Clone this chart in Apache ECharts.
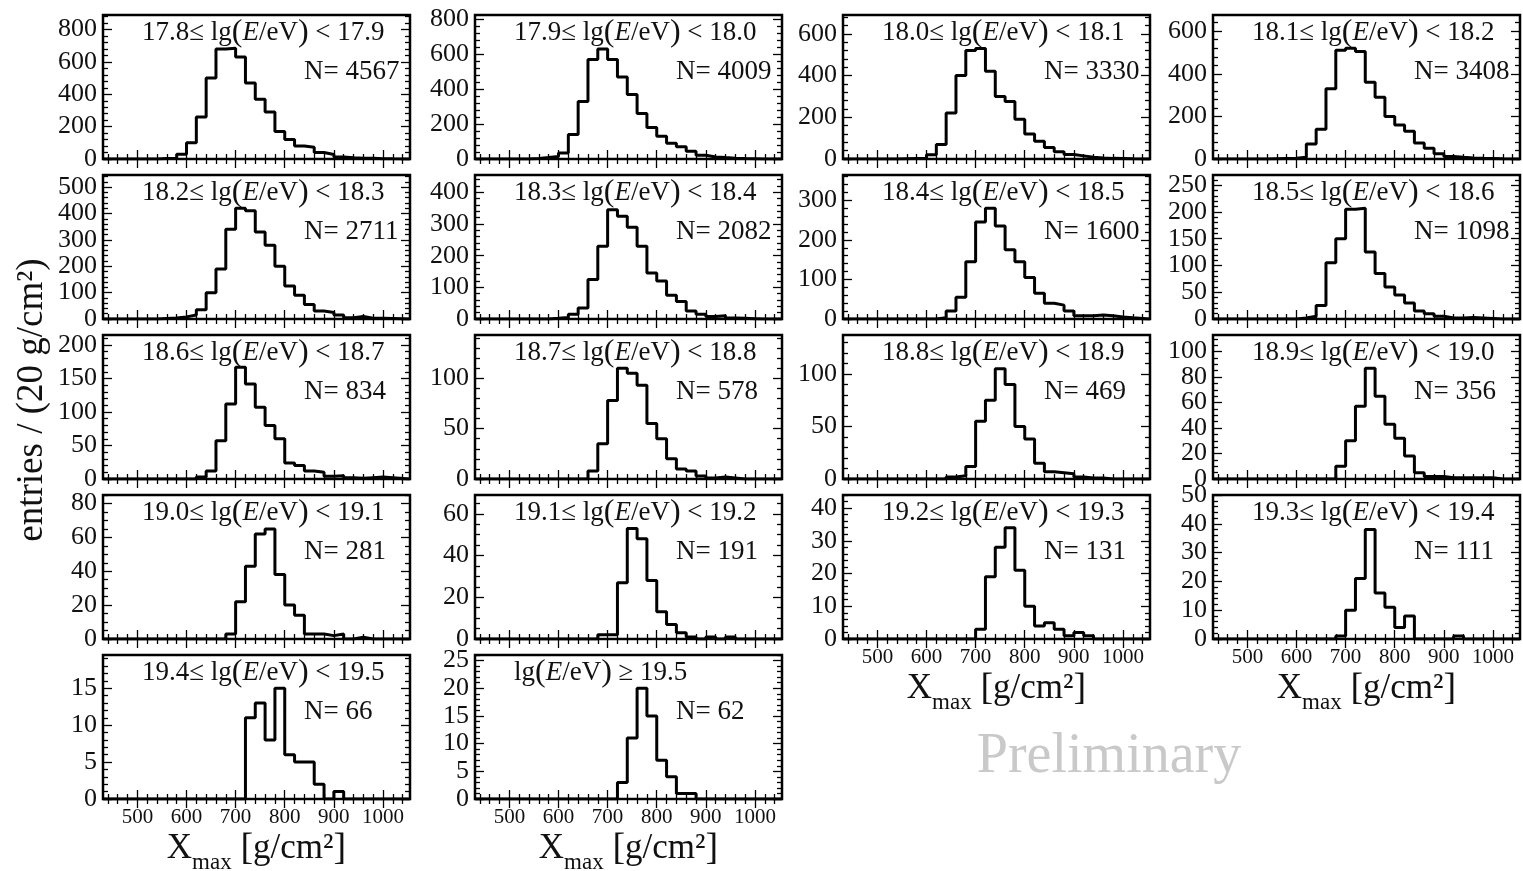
<!DOCTYPE html>
<html>
<head>
<meta charset="utf-8">
<script src="https://cdn.jsdelivr.net/npm/echarts@6/dist/echarts.min.js"></script>
<style>
html,body{margin:0;padding:0;background:#fff;}
#chart{width:1523px;height:871px;}
</style>
</head>
<body>
<div id="chart"></div>
<script>
// ---- data ----
// left edges of the 20 g/cm^2 Xmax bins
const binEdges = [540,560,580,600,620,640,660,680,700,720,740,760,780,800,820,840,860,880,900,920,940,960,980,1000];
const binWidth = 20;

const h178 = [3,5,30,100,260,500,680,685,630,470,370,290,170,120,80,72,40,28,12,8,5,4,2,1];
const h179 = [3,8,15,35,140,330,570,630,570,470,370,260,180,130,90,70,45,22,12,8,5,3,2,0];
const h180 = [1,2,3,20,70,220,400,520,530,420,300,275,190,120,85,55,35,22,15,8,5,3,2,1];
const h181 = [1,2,3,8,70,140,330,510,520,505,360,290,200,160,130,75,50,25,12,8,5,3,2,1];
const h182 = [2,4,8,15,35,100,190,340,420,410,330,280,200,125,90,55,30,25,15,5,10,3,3,2];
const h183 = [0,0,2,5,15,35,125,230,345,325,290,230,145,120,75,55,25,15,8,10,3,2,1,0];
const h184 = [0,0,0,0,3,20,55,145,245,280,235,175,145,105,65,40,35,20,8,8,10,8,5,3];
const h185 = [0,0,0,2,5,25,105,150,205,207,125,85,60,45,30,15,10,5,2,2,3,2,1,0];
const h186 = [0,0,0,0,3,12,57,112,167,142,107,80,60,24,20,12,10,4,5,2,1,2,3,2];
const h187 = [0,0,0,0,0,0,8,35,78,110,105,93,55,40,20,10,8,3,1,2,1,0,0,0];
const h188 = [0,0,0,0,0,2,3,12,55,75,105,90,50,38,15,7,6,5,2,1,1,0,0,0];
const h189 = [0,0,0,0,0,0,0,10,30,57,87,65,43,32,18,5,2,2,1,1,1,1,1,0];
const h190 = [0,0,0,0,0,0,0,3,22,43,62,65,38,20,14,3,3,2,3,0,1,0,0,0];
const h191 = [0,0,0,0,0,0,0,2,2,27,53,48,28,13,7,3,1,0,1,0,1,0,0,0];
const h192 = [0,0,0,0,0,0,0,0,3,19,28,34,21,10,4,5,3,1,2,1,0,0,0,0];
const h193 = [0,0,0,0,0,0,0,1,10,21,38,16,11,4,8,0,0,0,0,1,0,0,0,0];
const h194 = [0,0,0,0,0,0,0,0,0,11,13,8,15,6,5,5,2,0,1,0,0,0,0,0];
const h195 = [0,0,0,0,0,0,0,0,0,3,11,20,15,7,4,1,1,0,0,0,0,0,0,0];

const energyLow  = ['17.8','17.9','18.0','18.1','18.2','18.3','18.4','18.5','18.6','18.7','18.8','18.9','19.0','19.1','19.2','19.3','19.4','19.5'];
const energyHigh = ['17.9','18.0','18.1','18.2','18.3','18.4','18.5','18.6','18.7','18.8','18.9','19.0','19.1','19.2','19.3','19.4','19.5',null];
const nEvents = [4567,4009,3330,3408,2711,2082,1600,1098,834,578,469,356,281,191,131,111,66,62];

// axis ranges / tick labels
const yMax  = [890,825,690,676,546,455,364,269,215,143,137,113,85,69,44,50,19.5,26];
const yStep = [200,200,200,200,100,100,100,50,50,50,50,20,20,20,10,10,5,5];
const yMinorStep = [40,40,40,40,20,20,20,10,10,10,10,5,5,5,2,2,1,1];
const xMin = 430, xMax = 1055;
const xMajorTicks = [500,600,700,800,900,1000];
const xMinorTicks = [440,460,480,520,540,560,580,620,640,660,680,720,740,760,780,820,840,860,880,920,940,960,980,1020,1040];

const hists = [h178,h179,h180,h181,h182,h183,h184,h185,h186,h187,h188,h189,h190,h191,h192,h193,h194,h195];

// ---- layout ----
const colLeft = [103, 475, 843, 1213];
const rowTop = [15, 175, 335, 495, 655];
const W = 307, H = 144;
const FONT = '"Liberation Serif","Times New Roman",serif';
const INK = '#111';

const option = {animation:false, backgroundColor:'#fff', grid:[], xAxis:[], yAxis:[], series:[], graphic:[]};

function ticksFrom(step, max){ const a=[]; for(let v=0; v<=max+1e-9; v+=step) a.push(+v.toFixed(6)); return a; }

function xAx(gi, pos, ticks, len, labels){
  return {gridIndex:gi, type:'value', min:xMin, max:xMax, position:pos,
    axisLine:{show:false}, splitLine:{show:false},
    axisTick:{show:true, inside:true, length:len, customValues:ticks, lineStyle:{color:'#000', width:1.3}},
    axisLabel:{show:!!labels, customValues:ticks, showMinLabel:true, showMaxLabel:true, hideOverlap:false,
      formatter:function(v){return String(v);}, fontFamily:FONT, fontSize:21, color:INK, margin:8}};
}
// labels: the tick labels this axis carries (major labels split over two overlapping axes so none are dropped)
function yAx(gi, pos, ticks, len, labels, max){
  return {gridIndex:gi, type:'value', min:0, max:max, position:pos,
    axisLine:{show:false}, splitLine:{show:false},
    axisTick:{show:true, inside:true, length:len, customValues:ticks, lineStyle:{color:'#000', width:1.3}},
    axisLabel:{show:!!labels, customValues:labels || [], showMinLabel:true, showMaxLabel:true, hideOverlap:false,
      formatter:function(v){return String(v);}, fontFamily:FONT, fontSize:26, color:INK, margin:6}};
}

const richBase = {
  n:{fontFamily:FONT, fontSize:27, fill:INK, color:INK},
  i:{fontFamily:FONT, fontSize:27, fontStyle:'italic', fill:INK, color:INK},
  p:{fontFamily:FONT, fontSize:32, fill:INK, color:INK}
};

hists.forEach((h, i) => {
  const row = i < 16 ? Math.floor(i/4) : 4;
  const col = i % 4;
  const left = colLeft[col], top = rowTop[row];
  const showX = (i >= 14);
  option.grid.push({left:left, top:top, width:W, height:H, show:true, borderColor:'#000', borderWidth:2.5, backgroundColor:'transparent'});
  const yMajor = ticksFrom(yStep[i], yMax[i]);
  const yMinor = ticksFrom(yMinorStep[i], yMax[i]).filter(v => yMajor.indexOf(v) < 0);
  const labEven = yMajor.filter((v,k) => k % 2 === 0);
  const labOdd  = yMajor.filter((v,k) => k % 2 === 1);
  option.xAxis.push(xAx(i,'bottom',xMajorTicks,9,showX), xAx(i,'bottom',xMinorTicks,5,false),
                    xAx(i,'top',xMajorTicks,9,false), xAx(i,'top',xMinorTicks,5,false));
  option.yAxis.push(yAx(i,'left',yMajor,9,labEven,yMax[i]), yAx(i,'left',yMinor,5,labOdd,yMax[i]),
                    yAx(i,'right',yMajor,9,null,yMax[i]), yAx(i,'right',yMinor,5,null,yMax[i]));
  const pts = [[xMin,0]];
  binEdges.forEach((e,k) => pts.push([e, h[k]]));
  pts.push([binEdges[binEdges.length-1] + binWidth, 0]);
  pts.push([xMax, 0]);
  option.series.push({type:'line', xAxisIndex:4*i, yAxisIndex:4*i, step:'end', symbol:'none', showSymbol:false,
    data:pts, clip:true, lineStyle:{color:'#000', width:3}, z:3, silent:true});

  const title = energyHigh[i]
    ? '{n|' + energyLow[i] + '≤ lg}{p|(}{i|E}{n|/eV}{p|)}{n| < ' + energyHigh[i] + '}'
    : '{n|lg}{p|(}{i|E}{n|/eV}{p|)}{n| ≥ ' + energyLow[i] + '}';
  option.graphic.push({type:'text', x:left+39, y:top+18, z:10, silent:true,
    style:{text:title, rich:richBase, textAlign:'left', align:'left', textVerticalAlign:'middle', verticalAlign:'middle',
           fontFamily:FONT, fontSize:27, fill:INK}});
  option.graphic.push({type:'text', x:left+201, y:top+57, z:10, silent:true,
    style:{text:'N= ' + nEvents[i], textAlign:'left', align:'left', textVerticalAlign:'middle', verticalAlign:'middle',
           fontFamily:FONT, fontSize:27, fill:INK}});
});

// axis titles
const xTitleRich = {
  x:{fontFamily:FONT, fontSize:35, fill:INK, color:INK},
  s:{fontFamily:FONT, fontSize:23, fill:INK, color:INK, verticalAlign:'bottom', padding:[0,0,-6,0]},
  b:{fontFamily:FONT, fontSize:38, fill:INK, color:INK}
};
const xTitle = '{x|X}{s|max}{x| }{b|[}{x|g/cm²}{b|]}';
[[colLeft[0]+W/2, 849],[colLeft[1]+W/2, 849],[colLeft[2]+W/2, 689],[colLeft[3]+W/2, 689]].forEach(p => {
  option.graphic.push({type:'text', x:p[0], y:p[1], silent:true,
    style:{text:xTitle, rich:xTitleRich, textAlign:'center', align:'center', textVerticalAlign:'middle', verticalAlign:'middle', fontSize:35, fontFamily:FONT, fill:INK}});
});
option.graphic.push({type:'text', x:32, y:400, rotation:Math.PI/2, silent:true,
  style:{text:'entries / (20 g/cm²)', textAlign:'center', align:'center', textVerticalAlign:'middle', verticalAlign:'middle',
         fontFamily:FONT, fontSize:37, fill:INK}});
option.graphic.push({type:'text', x:1109, y:757, silent:true,
  style:{text:'Preliminary', textAlign:'center', align:'center', textVerticalAlign:'middle', verticalAlign:'middle',
         fontFamily:FONT, fontSize:56, fill:'#c9c9c9'}});

const chart = echarts.init(document.getElementById('chart'), null, {renderer:'canvas'});
chart.setOption(option);
</script>
</body>
</html>
